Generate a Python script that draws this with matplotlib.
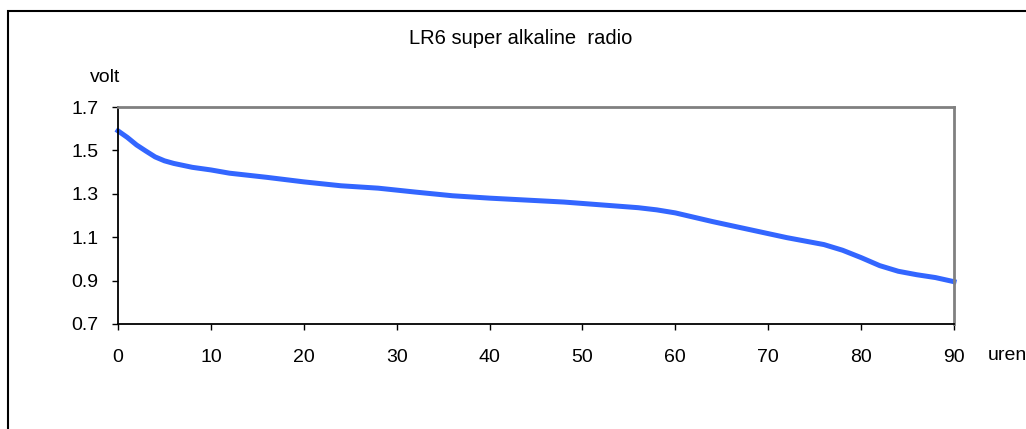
import matplotlib
matplotlib.use("Agg")
import matplotlib.pyplot as plt
from matplotlib.patches import Rectangle

# uren / volt
uren = [0, 1, 2, 3, 4, 5, 6, 8, 10, 12, 16, 20, 24, 28, 32, 36, 40, 44, 48,
        52, 56, 58, 60, 62, 64, 68, 72, 76, 78, 80, 82, 84, 86, 88, 90]
volt = [1.59, 1.56, 1.525, 1.497, 1.47, 1.452, 1.44, 1.422, 1.41, 1.395,
        1.376, 1.355, 1.337, 1.326, 1.308, 1.291, 1.28, 1.271, 1.262,
        1.249, 1.236, 1.226, 1.212, 1.192, 1.172, 1.135, 1.098, 1.066,
        1.04, 1.006, 0.969, 0.943, 0.927, 0.914, 0.895]

x_ticks = list(range(0, 91, 10))
y_ticks = [0.7, 0.9, 1.1, 1.3, 1.5, 1.7]

plt.rcParams['font.family'] = ['Liberation Sans', 'DejaVu Sans']
plt.rcParams['font.size'] = 14

fig = plt.figure(figsize=(10.26, 4.29), dpi=100)
ax = fig.add_axes([118 / 1026, 1 - 324 / 429, (954 - 118) / 1026, (324 - 107) / 429])

ax.plot(uren, volt, color='#3366FF', linewidth=3.6, solid_capstyle='projecting',
        solid_joinstyle='round', clip_on=False)

ax.set_xlim(0, 90)
ax.set_ylim(0.7, 1.7)
ax.set_xticks(x_ticks)
ax.set_yticks(y_ticks)
ax.set_yticklabels([f"{v:.1f}" for v in y_ticks])
ax.tick_params(direction='out', length=4, width=1, color='black')
ax.tick_params(axis='x', pad=14)
ax.tick_params(axis='y', pad=10)

for side in ['top', 'right']:
    ax.spines[side].set_color('#808080')
    ax.spines[side].set_linewidth(2)
for side in ['left', 'bottom']:
    ax.spines[side].set_color('black')
    ax.spines[side].set_linewidth(1.3)

fig.text(521 / 1026, 1 - 38 / 429, "LR6 super alkaline  radio", ha='center', va='center',
         fontsize=14.5)
fig.text(105 / 1026, 1 - 77 / 429, "volt", ha='center', va='center')
fig.text(988 / 1026, 1 - 355 / 429, "uren", ha='left', va='center')

# kader rond de grafiek (rechts en onder buiten beeld)
fig.patches.append(Rectangle((8 / 1026, -0.05), 1.1, 1 - 11 / 429 + 0.05,
                             transform=fig.transFigure, fill=False,
                             edgecolor='black', linewidth=1.5))

fig.savefig("out.png", dpi=100)
